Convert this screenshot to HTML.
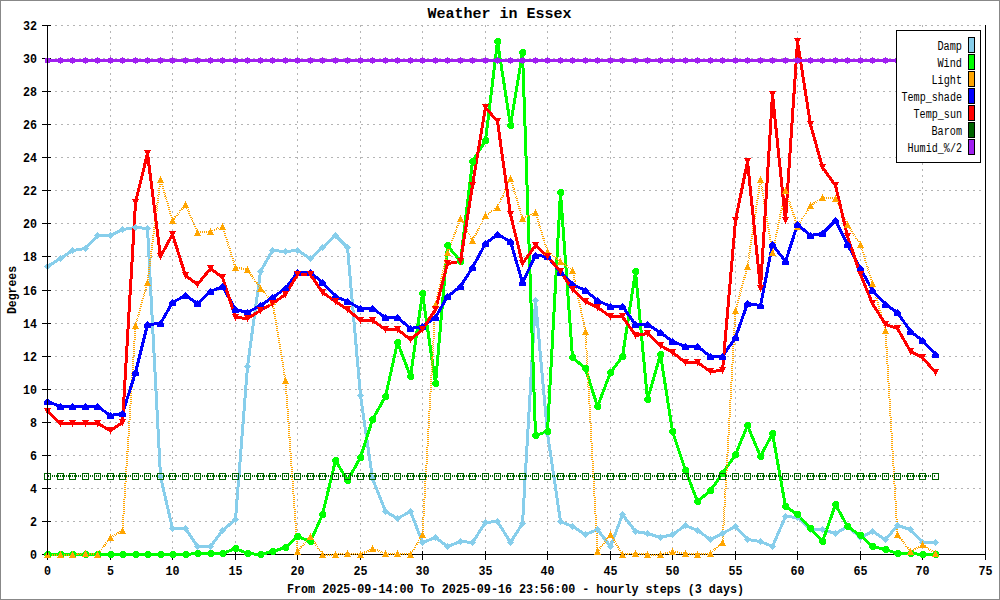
<!DOCTYPE html><html><head><meta charset="utf-8"><title>Weather in Essex</title><style>
html,body{margin:0;padding:0;background:#fff;}body{width:1000px;height:600px;overflow:hidden;}
svg{display:block;}
.t{font-family:"Liberation Mono",monospace;font-weight:bold;font-size:12px;fill:#000;}
.tt{font-family:"Liberation Mono",monospace;font-weight:bold;font-size:15px;fill:#000;}
.lg{font-family:"Liberation Mono",monospace;font-weight:normal;font-size:12px;fill:#000;}
</style></head><body>
<svg width="1000" height="600" viewBox="0 0 1000 600" shape-rendering="auto">
<rect x="0" y="0" width="1000" height="600" fill="#fff"/>
<rect x="0.5" y="0.5" width="999" height="599" fill="none" stroke="#888" stroke-width="1"/>
<path d="M48 521.5H985M48 488.5H985M48 455.5H985M48 422.5H985M48 389.5H985M48 356.5H985M48 323.5H985M48 290.5H985M48 256.5H985M48 223.5H985M48 190.5H985M48 157.5H985M48 124.5H985M48 91.5H985M48 58.5H985M48 25.5H985" stroke="#b4b4b4" stroke-width="1" stroke-dasharray="2 4" stroke-dashoffset="-1" fill="none" shape-rendering="crispEdges"/>
<path d="M110.5 25V554M172.5 25V554M235.5 25V554M297.5 25V554M360.5 25V554M422.5 25V554M485.5 25V554M547.5 25V554M610.5 25V554M672.5 25V554M735.5 25V554M797.5 25V554M860.5 25V554M922.5 25V554" stroke="#b4b4b4" stroke-width="1" stroke-dasharray="2 4" stroke-dashoffset="0" fill="none" shape-rendering="crispEdges"/>
<path d="M47 554.5H986M985.5 25V555" stroke="#000" stroke-width="1" fill="none" shape-rendering="crispEdges"/>
<text class="t" x="37" y="559" text-anchor="end" textLength="7" lengthAdjust="spacingAndGlyphs">0</text>
<text class="t" x="37" y="526" text-anchor="end" textLength="7" lengthAdjust="spacingAndGlyphs">2</text>
<text class="t" x="37" y="493" text-anchor="end" textLength="7" lengthAdjust="spacingAndGlyphs">4</text>
<text class="t" x="37" y="460" text-anchor="end" textLength="7" lengthAdjust="spacingAndGlyphs">6</text>
<text class="t" x="37" y="427" text-anchor="end" textLength="7" lengthAdjust="spacingAndGlyphs">8</text>
<text class="t" x="37" y="394" text-anchor="end" textLength="14" lengthAdjust="spacingAndGlyphs">10</text>
<text class="t" x="37" y="361" text-anchor="end" textLength="14" lengthAdjust="spacingAndGlyphs">12</text>
<text class="t" x="37" y="328" text-anchor="end" textLength="14" lengthAdjust="spacingAndGlyphs">14</text>
<text class="t" x="37" y="295" text-anchor="end" textLength="14" lengthAdjust="spacingAndGlyphs">16</text>
<text class="t" x="37" y="261" text-anchor="end" textLength="14" lengthAdjust="spacingAndGlyphs">18</text>
<text class="t" x="37" y="228" text-anchor="end" textLength="14" lengthAdjust="spacingAndGlyphs">20</text>
<text class="t" x="37" y="195" text-anchor="end" textLength="14" lengthAdjust="spacingAndGlyphs">22</text>
<text class="t" x="37" y="162" text-anchor="end" textLength="14" lengthAdjust="spacingAndGlyphs">24</text>
<text class="t" x="37" y="129" text-anchor="end" textLength="14" lengthAdjust="spacingAndGlyphs">26</text>
<text class="t" x="37" y="96" text-anchor="end" textLength="14" lengthAdjust="spacingAndGlyphs">28</text>
<text class="t" x="37" y="63" text-anchor="end" textLength="14" lengthAdjust="spacingAndGlyphs">30</text>
<text class="t" x="37" y="30" text-anchor="end" textLength="14" lengthAdjust="spacingAndGlyphs">32</text>
<text class="t" x="47.5" y="575" text-anchor="middle" textLength="7" lengthAdjust="spacingAndGlyphs">0</text>
<text class="t" x="110.5" y="575" text-anchor="middle" textLength="7" lengthAdjust="spacingAndGlyphs">5</text>
<text class="t" x="172.5" y="575" text-anchor="middle" textLength="14" lengthAdjust="spacingAndGlyphs">10</text>
<text class="t" x="235.5" y="575" text-anchor="middle" textLength="14" lengthAdjust="spacingAndGlyphs">15</text>
<text class="t" x="297.5" y="575" text-anchor="middle" textLength="14" lengthAdjust="spacingAndGlyphs">20</text>
<text class="t" x="360.5" y="575" text-anchor="middle" textLength="14" lengthAdjust="spacingAndGlyphs">25</text>
<text class="t" x="422.5" y="575" text-anchor="middle" textLength="14" lengthAdjust="spacingAndGlyphs">30</text>
<text class="t" x="485.5" y="575" text-anchor="middle" textLength="14" lengthAdjust="spacingAndGlyphs">35</text>
<text class="t" x="547.5" y="575" text-anchor="middle" textLength="14" lengthAdjust="spacingAndGlyphs">40</text>
<text class="t" x="610.5" y="575" text-anchor="middle" textLength="14" lengthAdjust="spacingAndGlyphs">45</text>
<text class="t" x="672.5" y="575" text-anchor="middle" textLength="14" lengthAdjust="spacingAndGlyphs">50</text>
<text class="t" x="735.5" y="575" text-anchor="middle" textLength="14" lengthAdjust="spacingAndGlyphs">55</text>
<text class="t" x="797.5" y="575" text-anchor="middle" textLength="14" lengthAdjust="spacingAndGlyphs">60</text>
<text class="t" x="860.5" y="575" text-anchor="middle" textLength="14" lengthAdjust="spacingAndGlyphs">65</text>
<text class="t" x="922.5" y="575" text-anchor="middle" textLength="14" lengthAdjust="spacingAndGlyphs">70</text>
<text class="t" x="985.5" y="575" text-anchor="middle" textLength="14" lengthAdjust="spacingAndGlyphs">75</text>
<text class="tt" x="499.5" y="18" text-anchor="middle">Weather in Essex</text>
<text class="t" x="515.5" y="593" text-anchor="middle" textLength="457" lengthAdjust="spacingAndGlyphs">From 2025-09-14:00 To 2025-09-16 23:56:00 - hourly steps (3 days)</text>
<text class="t" transform="translate(16,290) rotate(-90)" x="0" y="0" text-anchor="middle" textLength="48" lengthAdjust="spacingAndGlyphs">Degrees</text>
<defs><pattern id="dots" x="0" y="0" width="2" height="2" patternUnits="userSpaceOnUse"><rect x="0" y="0" width="1" height="2" fill="#006400"/></pattern></defs>
<path d="M42 554.5H51M42 521.5H51M42 488.5H51M42 455.5H51M42 422.5H51M42 389.5H51M42 356.5H51M42 323.5H51M42 290.5H51M42 256.5H51M42 223.5H51M42 190.5H51M42 157.5H51M42 124.5H51M42 91.5H51M42 58.5H51M42 25.5H51M47.5 551V560M110.5 551V560M172.5 551V560M235.5 551V560M297.5 551V560M360.5 551V560M422.5 551V560M485.5 551V560M547.5 551V560M610.5 551V560M672.5 551V560M735.5 551V560M797.5 551V560M860.5 551V560M922.5 551V560M985.5 551V560" stroke="#000" stroke-width="1" fill="none" shape-rendering="crispEdges"/>
<g>
<polyline points="47.50,266.50 60.50,258.50 72.50,250.50 85.50,248.50 97.50,235.50 110.50,235.50 122.50,229.50 135.50,227.50 147.50,228.50 160.50,476.50 172.50,528.50 185.50,528.50 197.50,546.50 210.50,546.50 222.50,530.50 235.50,519.50 247.50,366.50 260.50,271.50 272.50,250.50 285.50,251.50 297.50,250.50 310.50,258.50 322.50,247.50 335.50,235.50 347.50,247.50 360.50,395.50 372.50,478.50 385.50,511.50 397.50,518.50 410.50,511.50 422.50,542.50 435.50,537.50 447.50,546.50 460.50,541.50 472.50,542.50 485.50,522.50 497.50,521.50 510.50,542.50 522.50,523.50 535.50,300.50 547.50,433.50 560.50,521.50 572.50,526.50 585.50,534.50 597.50,529.50 610.50,546.50 622.50,514.50 635.50,531.50 647.50,533.50 660.50,537.50 672.50,534.50 685.50,525.50 697.50,530.50 710.50,539.50 722.50,533.50 735.50,526.50 747.50,539.50 760.50,541.50 772.50,546.50 785.50,516.50 797.50,517.50 810.50,529.50 822.50,529.50 835.50,533.50 847.50,526.50 860.50,537.50 872.50,531.50 885.50,539.50 897.50,525.50 910.50,529.50 922.50,542.50 935.50,542.50" fill="none" stroke="#87ceeb" stroke-width="3" stroke-linejoin="round" shape-rendering="crispEdges"/>
<polyline points="47.50,554.50 60.50,554.50 72.50,554.50 85.50,554.50 97.50,554.50 110.50,554.50 122.50,554.50 135.50,554.50 147.50,554.50 160.50,554.50 172.50,554.50 185.50,554.50 197.50,553.50 210.50,553.50 222.50,553.50 235.50,548.50 247.50,553.50 260.50,554.50 272.50,551.50 285.50,547.50 297.50,536.50 310.50,541.50 322.50,514.50 335.50,460.50 347.50,480.50 360.50,457.50 372.50,419.50 385.50,396.50 397.50,342.50 410.50,376.50 422.50,293.50 435.50,383.50 447.50,245.50 460.50,261.50 472.50,161.50 485.50,140.50 497.50,41.50 510.50,125.50 522.50,52.50 535.50,435.50 547.50,431.50 560.50,192.50 572.50,357.50 585.50,368.50 597.50,406.50 610.50,372.50 622.50,356.50 635.50,271.50 647.50,399.50 660.50,354.50 672.50,431.50 685.50,470.50 697.50,501.50 710.50,490.50 722.50,473.50 735.50,454.50 747.50,425.50 760.50,456.50 772.50,433.50 785.50,506.50 797.50,514.50 810.50,528.50 822.50,541.50 835.50,504.50 847.50,526.50 860.50,535.50 872.50,546.50 885.50,549.50 897.50,553.50 910.50,553.50 922.50,554.50 935.50,554.50" fill="none" stroke="#00ff00" stroke-width="3" stroke-linejoin="round" shape-rendering="crispEdges"/>
<polyline points="47.50,554.50 60.50,554.50 72.50,554.50 85.50,553.50 97.50,554.50 110.50,537.50 122.50,530.50 135.50,325.50 147.50,282.50 160.50,179.50 172.50,220.50 185.50,204.50 197.50,232.50 210.50,231.50 222.50,226.50 235.50,267.50 247.50,269.50 260.50,288.50 272.50,301.50 285.50,380.50 297.50,551.50 310.50,536.50 322.50,554.50 335.50,554.50 347.50,553.50 360.50,554.50 372.50,548.50 385.50,553.50 397.50,553.50 410.50,554.50 422.50,534.50 435.50,304.50 447.50,252.50 460.50,218.50 472.50,240.50 485.50,215.50 497.50,207.50 510.50,178.50 522.50,218.50 535.50,212.50 547.50,251.50 560.50,261.50 572.50,270.50 585.50,331.50 597.50,551.50 610.50,534.50 622.50,554.50 635.50,553.50 647.50,554.50 660.50,554.50 672.50,551.50 685.50,553.50 697.50,554.50 710.50,553.50 722.50,542.50 735.50,310.50 747.50,266.50 760.50,179.50 772.50,252.50 785.50,190.50 797.50,226.50 810.50,205.50 822.50,197.50 835.50,198.50 847.50,224.50 860.50,244.50 872.50,283.50 885.50,330.50 897.50,534.50 910.50,551.50 922.50,544.50 935.50,553.50" fill="none" stroke="#ffa500" stroke-width="2" stroke-linejoin="round" stroke-dasharray="1 1" shape-rendering="crispEdges"/>
<polyline points="47.50,401.50 60.50,406.50 72.50,406.50 85.50,406.50 97.50,406.50 110.50,415.50 122.50,413.50 135.50,372.50 147.50,324.50 160.50,323.50 172.50,302.50 185.50,295.50 197.50,303.50 210.50,291.50 222.50,286.50 235.50,309.50 247.50,312.50 260.50,305.50 272.50,297.50 285.50,288.50 297.50,272.50 310.50,272.50 322.50,282.50 335.50,296.50 347.50,301.50 360.50,308.50 372.50,308.50 385.50,317.50 397.50,317.50 410.50,328.50 422.50,326.50 435.50,317.50 447.50,296.50 460.50,286.50 472.50,267.50 485.50,243.50 497.50,234.50 510.50,241.50 522.50,282.50 535.50,255.50 547.50,256.50 560.50,272.50 572.50,284.50 585.50,290.50 597.50,300.50 610.50,306.50 622.50,306.50 635.50,324.50 647.50,324.50 660.50,332.50 672.50,341.50 685.50,346.50 697.50,346.50 710.50,356.50 722.50,356.50 735.50,337.50 747.50,303.50 760.50,305.50 772.50,244.50 785.50,261.50 797.50,224.50 810.50,235.50 822.50,233.50 835.50,220.50 847.50,244.50 860.50,268.50 872.50,290.50 885.50,304.50 897.50,312.50 910.50,331.50 922.50,340.50 935.50,354.50" fill="none" stroke="#0000ff" stroke-width="3" stroke-linejoin="round" shape-rendering="crispEdges"/>
<polyline points="47.50,411.50 60.50,423.50 72.50,423.50 85.50,423.50 97.50,423.50 110.50,430.50 122.50,422.50 135.50,202.50 147.50,153.50 160.50,256.50 172.50,234.50 185.50,275.50 197.50,284.50 210.50,268.50 222.50,277.50 235.50,317.50 247.50,318.50 260.50,310.50 272.50,303.50 285.50,294.50 297.50,274.50 310.50,274.50 322.50,292.50 335.50,301.50 347.50,309.50 360.50,320.50 372.50,320.50 385.50,329.50 397.50,329.50 410.50,339.50 422.50,329.50 435.50,309.50 447.50,263.50 460.50,261.50 472.50,185.50 485.50,107.50 497.50,121.50 510.50,214.50 522.50,263.50 535.50,245.50 547.50,256.50 560.50,271.50 572.50,289.50 585.50,301.50 597.50,307.50 610.50,316.50 622.50,316.50 635.50,335.50 647.50,333.50 660.50,345.50 672.50,352.50 685.50,362.50 697.50,362.50 710.50,371.50 722.50,370.50 735.50,220.50 747.50,161.50 760.50,288.50 772.50,94.50 785.50,220.50 797.50,41.50 810.50,124.50 822.50,167.50 835.50,185.50 847.50,236.50 860.50,274.50 872.50,303.50 885.50,324.50 897.50,328.50 910.50,351.50 922.50,357.50 935.50,372.50" fill="none" stroke="#ff0000" stroke-width="3" stroke-linejoin="round" shape-rendering="crispEdges"/>
<rect x="47" y="475" width="888" height="2" fill="url(#dots)"/>
<rect x="47" y="59" width="889" height="3" fill="#a020f0"/>
<g shape-rendering="crispEdges">
<path d="M47.50 263.30L50.70 266.50L47.50 269.70L44.30 266.50Z" fill="#87ceeb"/><path d="M60.50 255.30L63.70 258.50L60.50 261.70L57.30 258.50Z" fill="#87ceeb"/><path d="M72.50 247.30L75.70 250.50L72.50 253.70L69.30 250.50Z" fill="#87ceeb"/><path d="M85.50 245.30L88.70 248.50L85.50 251.70L82.30 248.50Z" fill="#87ceeb"/><path d="M97.50 232.30L100.70 235.50L97.50 238.70L94.30 235.50Z" fill="#87ceeb"/><path d="M110.50 232.30L113.70 235.50L110.50 238.70L107.30 235.50Z" fill="#87ceeb"/><path d="M122.50 226.30L125.70 229.50L122.50 232.70L119.30 229.50Z" fill="#87ceeb"/><path d="M135.50 224.30L138.70 227.50L135.50 230.70L132.30 227.50Z" fill="#87ceeb"/><path d="M147.50 225.30L150.70 228.50L147.50 231.70L144.30 228.50Z" fill="#87ceeb"/><path d="M160.50 473.30L163.70 476.50L160.50 479.70L157.30 476.50Z" fill="#87ceeb"/><path d="M172.50 525.30L175.70 528.50L172.50 531.70L169.30 528.50Z" fill="#87ceeb"/><path d="M185.50 525.30L188.70 528.50L185.50 531.70L182.30 528.50Z" fill="#87ceeb"/><path d="M197.50 543.30L200.70 546.50L197.50 549.70L194.30 546.50Z" fill="#87ceeb"/><path d="M210.50 543.30L213.70 546.50L210.50 549.70L207.30 546.50Z" fill="#87ceeb"/><path d="M222.50 527.30L225.70 530.50L222.50 533.70L219.30 530.50Z" fill="#87ceeb"/><path d="M235.50 516.30L238.70 519.50L235.50 522.70L232.30 519.50Z" fill="#87ceeb"/><path d="M247.50 363.30L250.70 366.50L247.50 369.70L244.30 366.50Z" fill="#87ceeb"/><path d="M260.50 268.30L263.70 271.50L260.50 274.70L257.30 271.50Z" fill="#87ceeb"/><path d="M272.50 247.30L275.70 250.50L272.50 253.70L269.30 250.50Z" fill="#87ceeb"/><path d="M285.50 248.30L288.70 251.50L285.50 254.70L282.30 251.50Z" fill="#87ceeb"/><path d="M297.50 247.30L300.70 250.50L297.50 253.70L294.30 250.50Z" fill="#87ceeb"/><path d="M310.50 255.30L313.70 258.50L310.50 261.70L307.30 258.50Z" fill="#87ceeb"/><path d="M322.50 244.30L325.70 247.50L322.50 250.70L319.30 247.50Z" fill="#87ceeb"/><path d="M335.50 232.30L338.70 235.50L335.50 238.70L332.30 235.50Z" fill="#87ceeb"/><path d="M347.50 244.30L350.70 247.50L347.50 250.70L344.30 247.50Z" fill="#87ceeb"/><path d="M360.50 392.30L363.70 395.50L360.50 398.70L357.30 395.50Z" fill="#87ceeb"/><path d="M372.50 475.30L375.70 478.50L372.50 481.70L369.30 478.50Z" fill="#87ceeb"/><path d="M385.50 508.30L388.70 511.50L385.50 514.70L382.30 511.50Z" fill="#87ceeb"/><path d="M397.50 515.30L400.70 518.50L397.50 521.70L394.30 518.50Z" fill="#87ceeb"/><path d="M410.50 508.30L413.70 511.50L410.50 514.70L407.30 511.50Z" fill="#87ceeb"/><path d="M422.50 539.30L425.70 542.50L422.50 545.70L419.30 542.50Z" fill="#87ceeb"/><path d="M435.50 534.30L438.70 537.50L435.50 540.70L432.30 537.50Z" fill="#87ceeb"/><path d="M447.50 543.30L450.70 546.50L447.50 549.70L444.30 546.50Z" fill="#87ceeb"/><path d="M460.50 538.30L463.70 541.50L460.50 544.70L457.30 541.50Z" fill="#87ceeb"/><path d="M472.50 539.30L475.70 542.50L472.50 545.70L469.30 542.50Z" fill="#87ceeb"/><path d="M485.50 519.30L488.70 522.50L485.50 525.70L482.30 522.50Z" fill="#87ceeb"/><path d="M497.50 518.30L500.70 521.50L497.50 524.70L494.30 521.50Z" fill="#87ceeb"/><path d="M510.50 539.30L513.70 542.50L510.50 545.70L507.30 542.50Z" fill="#87ceeb"/><path d="M522.50 520.30L525.70 523.50L522.50 526.70L519.30 523.50Z" fill="#87ceeb"/><path d="M535.50 297.30L538.70 300.50L535.50 303.70L532.30 300.50Z" fill="#87ceeb"/><path d="M547.50 430.30L550.70 433.50L547.50 436.70L544.30 433.50Z" fill="#87ceeb"/><path d="M560.50 518.30L563.70 521.50L560.50 524.70L557.30 521.50Z" fill="#87ceeb"/><path d="M572.50 523.30L575.70 526.50L572.50 529.70L569.30 526.50Z" fill="#87ceeb"/><path d="M585.50 531.30L588.70 534.50L585.50 537.70L582.30 534.50Z" fill="#87ceeb"/><path d="M597.50 526.30L600.70 529.50L597.50 532.70L594.30 529.50Z" fill="#87ceeb"/><path d="M610.50 543.30L613.70 546.50L610.50 549.70L607.30 546.50Z" fill="#87ceeb"/><path d="M622.50 511.30L625.70 514.50L622.50 517.70L619.30 514.50Z" fill="#87ceeb"/><path d="M635.50 528.30L638.70 531.50L635.50 534.70L632.30 531.50Z" fill="#87ceeb"/><path d="M647.50 530.30L650.70 533.50L647.50 536.70L644.30 533.50Z" fill="#87ceeb"/><path d="M660.50 534.30L663.70 537.50L660.50 540.70L657.30 537.50Z" fill="#87ceeb"/><path d="M672.50 531.30L675.70 534.50L672.50 537.70L669.30 534.50Z" fill="#87ceeb"/><path d="M685.50 522.30L688.70 525.50L685.50 528.70L682.30 525.50Z" fill="#87ceeb"/><path d="M697.50 527.30L700.70 530.50L697.50 533.70L694.30 530.50Z" fill="#87ceeb"/><path d="M710.50 536.30L713.70 539.50L710.50 542.70L707.30 539.50Z" fill="#87ceeb"/><path d="M722.50 530.30L725.70 533.50L722.50 536.70L719.30 533.50Z" fill="#87ceeb"/><path d="M735.50 523.30L738.70 526.50L735.50 529.70L732.30 526.50Z" fill="#87ceeb"/><path d="M747.50 536.30L750.70 539.50L747.50 542.70L744.30 539.50Z" fill="#87ceeb"/><path d="M760.50 538.30L763.70 541.50L760.50 544.70L757.30 541.50Z" fill="#87ceeb"/><path d="M772.50 543.30L775.70 546.50L772.50 549.70L769.30 546.50Z" fill="#87ceeb"/><path d="M785.50 513.30L788.70 516.50L785.50 519.70L782.30 516.50Z" fill="#87ceeb"/><path d="M797.50 514.30L800.70 517.50L797.50 520.70L794.30 517.50Z" fill="#87ceeb"/><path d="M810.50 526.30L813.70 529.50L810.50 532.70L807.30 529.50Z" fill="#87ceeb"/><path d="M822.50 526.30L825.70 529.50L822.50 532.70L819.30 529.50Z" fill="#87ceeb"/><path d="M835.50 530.30L838.70 533.50L835.50 536.70L832.30 533.50Z" fill="#87ceeb"/><path d="M847.50 523.30L850.70 526.50L847.50 529.70L844.30 526.50Z" fill="#87ceeb"/><path d="M860.50 534.30L863.70 537.50L860.50 540.70L857.30 537.50Z" fill="#87ceeb"/><path d="M872.50 528.30L875.70 531.50L872.50 534.70L869.30 531.50Z" fill="#87ceeb"/><path d="M885.50 536.30L888.70 539.50L885.50 542.70L882.30 539.50Z" fill="#87ceeb"/><path d="M897.50 522.30L900.70 525.50L897.50 528.70L894.30 525.50Z" fill="#87ceeb"/><path d="M910.50 526.30L913.70 529.50L910.50 532.70L907.30 529.50Z" fill="#87ceeb"/><path d="M922.50 539.30L925.70 542.50L922.50 545.70L919.30 542.50Z" fill="#87ceeb"/><path d="M935.50 539.30L938.70 542.50L935.50 545.70L932.30 542.50Z" fill="#87ceeb"/>
<path d="M46.00 551.00H49.00L51.00 553.00V556.00L49.00 558.00H46.00L44.00 556.00V553.00Z" fill="#00ff00"/><path d="M59.00 551.00H62.00L64.00 553.00V556.00L62.00 558.00H59.00L57.00 556.00V553.00Z" fill="#00ff00"/><path d="M71.00 551.00H74.00L76.00 553.00V556.00L74.00 558.00H71.00L69.00 556.00V553.00Z" fill="#00ff00"/><path d="M84.00 551.00H87.00L89.00 553.00V556.00L87.00 558.00H84.00L82.00 556.00V553.00Z" fill="#00ff00"/><path d="M96.00 551.00H99.00L101.00 553.00V556.00L99.00 558.00H96.00L94.00 556.00V553.00Z" fill="#00ff00"/><path d="M109.00 551.00H112.00L114.00 553.00V556.00L112.00 558.00H109.00L107.00 556.00V553.00Z" fill="#00ff00"/><path d="M121.00 551.00H124.00L126.00 553.00V556.00L124.00 558.00H121.00L119.00 556.00V553.00Z" fill="#00ff00"/><path d="M134.00 551.00H137.00L139.00 553.00V556.00L137.00 558.00H134.00L132.00 556.00V553.00Z" fill="#00ff00"/><path d="M146.00 551.00H149.00L151.00 553.00V556.00L149.00 558.00H146.00L144.00 556.00V553.00Z" fill="#00ff00"/><path d="M159.00 551.00H162.00L164.00 553.00V556.00L162.00 558.00H159.00L157.00 556.00V553.00Z" fill="#00ff00"/><path d="M171.00 551.00H174.00L176.00 553.00V556.00L174.00 558.00H171.00L169.00 556.00V553.00Z" fill="#00ff00"/><path d="M184.00 551.00H187.00L189.00 553.00V556.00L187.00 558.00H184.00L182.00 556.00V553.00Z" fill="#00ff00"/><path d="M196.00 550.00H199.00L201.00 552.00V555.00L199.00 557.00H196.00L194.00 555.00V552.00Z" fill="#00ff00"/><path d="M209.00 550.00H212.00L214.00 552.00V555.00L212.00 557.00H209.00L207.00 555.00V552.00Z" fill="#00ff00"/><path d="M221.00 550.00H224.00L226.00 552.00V555.00L224.00 557.00H221.00L219.00 555.00V552.00Z" fill="#00ff00"/><path d="M234.00 545.00H237.00L239.00 547.00V550.00L237.00 552.00H234.00L232.00 550.00V547.00Z" fill="#00ff00"/><path d="M246.00 550.00H249.00L251.00 552.00V555.00L249.00 557.00H246.00L244.00 555.00V552.00Z" fill="#00ff00"/><path d="M259.00 551.00H262.00L264.00 553.00V556.00L262.00 558.00H259.00L257.00 556.00V553.00Z" fill="#00ff00"/><path d="M271.00 548.00H274.00L276.00 550.00V553.00L274.00 555.00H271.00L269.00 553.00V550.00Z" fill="#00ff00"/><path d="M284.00 544.00H287.00L289.00 546.00V549.00L287.00 551.00H284.00L282.00 549.00V546.00Z" fill="#00ff00"/><path d="M296.00 533.00H299.00L301.00 535.00V538.00L299.00 540.00H296.00L294.00 538.00V535.00Z" fill="#00ff00"/><path d="M309.00 538.00H312.00L314.00 540.00V543.00L312.00 545.00H309.00L307.00 543.00V540.00Z" fill="#00ff00"/><path d="M321.00 511.00H324.00L326.00 513.00V516.00L324.00 518.00H321.00L319.00 516.00V513.00Z" fill="#00ff00"/><path d="M334.00 457.00H337.00L339.00 459.00V462.00L337.00 464.00H334.00L332.00 462.00V459.00Z" fill="#00ff00"/><path d="M346.00 477.00H349.00L351.00 479.00V482.00L349.00 484.00H346.00L344.00 482.00V479.00Z" fill="#00ff00"/><path d="M359.00 454.00H362.00L364.00 456.00V459.00L362.00 461.00H359.00L357.00 459.00V456.00Z" fill="#00ff00"/><path d="M371.00 416.00H374.00L376.00 418.00V421.00L374.00 423.00H371.00L369.00 421.00V418.00Z" fill="#00ff00"/><path d="M384.00 393.00H387.00L389.00 395.00V398.00L387.00 400.00H384.00L382.00 398.00V395.00Z" fill="#00ff00"/><path d="M396.00 339.00H399.00L401.00 341.00V344.00L399.00 346.00H396.00L394.00 344.00V341.00Z" fill="#00ff00"/><path d="M409.00 373.00H412.00L414.00 375.00V378.00L412.00 380.00H409.00L407.00 378.00V375.00Z" fill="#00ff00"/><path d="M421.00 290.00H424.00L426.00 292.00V295.00L424.00 297.00H421.00L419.00 295.00V292.00Z" fill="#00ff00"/><path d="M434.00 380.00H437.00L439.00 382.00V385.00L437.00 387.00H434.00L432.00 385.00V382.00Z" fill="#00ff00"/><path d="M446.00 242.00H449.00L451.00 244.00V247.00L449.00 249.00H446.00L444.00 247.00V244.00Z" fill="#00ff00"/><path d="M459.00 258.00H462.00L464.00 260.00V263.00L462.00 265.00H459.00L457.00 263.00V260.00Z" fill="#00ff00"/><path d="M471.00 158.00H474.00L476.00 160.00V163.00L474.00 165.00H471.00L469.00 163.00V160.00Z" fill="#00ff00"/><path d="M484.00 137.00H487.00L489.00 139.00V142.00L487.00 144.00H484.00L482.00 142.00V139.00Z" fill="#00ff00"/><path d="M496.00 38.00H499.00L501.00 40.00V43.00L499.00 45.00H496.00L494.00 43.00V40.00Z" fill="#00ff00"/><path d="M509.00 122.00H512.00L514.00 124.00V127.00L512.00 129.00H509.00L507.00 127.00V124.00Z" fill="#00ff00"/><path d="M521.00 49.00H524.00L526.00 51.00V54.00L524.00 56.00H521.00L519.00 54.00V51.00Z" fill="#00ff00"/><path d="M534.00 432.00H537.00L539.00 434.00V437.00L537.00 439.00H534.00L532.00 437.00V434.00Z" fill="#00ff00"/><path d="M546.00 428.00H549.00L551.00 430.00V433.00L549.00 435.00H546.00L544.00 433.00V430.00Z" fill="#00ff00"/><path d="M559.00 189.00H562.00L564.00 191.00V194.00L562.00 196.00H559.00L557.00 194.00V191.00Z" fill="#00ff00"/><path d="M571.00 354.00H574.00L576.00 356.00V359.00L574.00 361.00H571.00L569.00 359.00V356.00Z" fill="#00ff00"/><path d="M584.00 365.00H587.00L589.00 367.00V370.00L587.00 372.00H584.00L582.00 370.00V367.00Z" fill="#00ff00"/><path d="M596.00 403.00H599.00L601.00 405.00V408.00L599.00 410.00H596.00L594.00 408.00V405.00Z" fill="#00ff00"/><path d="M609.00 369.00H612.00L614.00 371.00V374.00L612.00 376.00H609.00L607.00 374.00V371.00Z" fill="#00ff00"/><path d="M621.00 353.00H624.00L626.00 355.00V358.00L624.00 360.00H621.00L619.00 358.00V355.00Z" fill="#00ff00"/><path d="M634.00 268.00H637.00L639.00 270.00V273.00L637.00 275.00H634.00L632.00 273.00V270.00Z" fill="#00ff00"/><path d="M646.00 396.00H649.00L651.00 398.00V401.00L649.00 403.00H646.00L644.00 401.00V398.00Z" fill="#00ff00"/><path d="M659.00 351.00H662.00L664.00 353.00V356.00L662.00 358.00H659.00L657.00 356.00V353.00Z" fill="#00ff00"/><path d="M671.00 428.00H674.00L676.00 430.00V433.00L674.00 435.00H671.00L669.00 433.00V430.00Z" fill="#00ff00"/><path d="M684.00 467.00H687.00L689.00 469.00V472.00L687.00 474.00H684.00L682.00 472.00V469.00Z" fill="#00ff00"/><path d="M696.00 498.00H699.00L701.00 500.00V503.00L699.00 505.00H696.00L694.00 503.00V500.00Z" fill="#00ff00"/><path d="M709.00 487.00H712.00L714.00 489.00V492.00L712.00 494.00H709.00L707.00 492.00V489.00Z" fill="#00ff00"/><path d="M721.00 470.00H724.00L726.00 472.00V475.00L724.00 477.00H721.00L719.00 475.00V472.00Z" fill="#00ff00"/><path d="M734.00 451.00H737.00L739.00 453.00V456.00L737.00 458.00H734.00L732.00 456.00V453.00Z" fill="#00ff00"/><path d="M746.00 422.00H749.00L751.00 424.00V427.00L749.00 429.00H746.00L744.00 427.00V424.00Z" fill="#00ff00"/><path d="M759.00 453.00H762.00L764.00 455.00V458.00L762.00 460.00H759.00L757.00 458.00V455.00Z" fill="#00ff00"/><path d="M771.00 430.00H774.00L776.00 432.00V435.00L774.00 437.00H771.00L769.00 435.00V432.00Z" fill="#00ff00"/><path d="M784.00 503.00H787.00L789.00 505.00V508.00L787.00 510.00H784.00L782.00 508.00V505.00Z" fill="#00ff00"/><path d="M796.00 511.00H799.00L801.00 513.00V516.00L799.00 518.00H796.00L794.00 516.00V513.00Z" fill="#00ff00"/><path d="M809.00 525.00H812.00L814.00 527.00V530.00L812.00 532.00H809.00L807.00 530.00V527.00Z" fill="#00ff00"/><path d="M821.00 538.00H824.00L826.00 540.00V543.00L824.00 545.00H821.00L819.00 543.00V540.00Z" fill="#00ff00"/><path d="M834.00 501.00H837.00L839.00 503.00V506.00L837.00 508.00H834.00L832.00 506.00V503.00Z" fill="#00ff00"/><path d="M846.00 523.00H849.00L851.00 525.00V528.00L849.00 530.00H846.00L844.00 528.00V525.00Z" fill="#00ff00"/><path d="M859.00 532.00H862.00L864.00 534.00V537.00L862.00 539.00H859.00L857.00 537.00V534.00Z" fill="#00ff00"/><path d="M871.00 543.00H874.00L876.00 545.00V548.00L874.00 550.00H871.00L869.00 548.00V545.00Z" fill="#00ff00"/><path d="M884.00 546.00H887.00L889.00 548.00V551.00L887.00 553.00H884.00L882.00 551.00V548.00Z" fill="#00ff00"/><path d="M896.00 550.00H899.00L901.00 552.00V555.00L899.00 557.00H896.00L894.00 555.00V552.00Z" fill="#00ff00"/><path d="M909.00 550.00H912.00L914.00 552.00V555.00L912.00 557.00H909.00L907.00 555.00V552.00Z" fill="#00ff00"/><path d="M921.00 551.00H924.00L926.00 553.00V556.00L924.00 558.00H921.00L919.00 556.00V553.00Z" fill="#00ff00"/><path d="M934.00 551.00H937.00L939.00 553.00V556.00L937.00 558.00H934.00L932.00 556.00V553.00Z" fill="#00ff00"/>
<path d="M47.50 551.00L51.00 558.00L44.00 558.00Z" fill="#ffa500"/><path d="M60.50 551.00L64.00 558.00L57.00 558.00Z" fill="#ffa500"/><path d="M72.50 551.00L76.00 558.00L69.00 558.00Z" fill="#ffa500"/><path d="M85.50 550.00L89.00 557.00L82.00 557.00Z" fill="#ffa500"/><path d="M97.50 551.00L101.00 558.00L94.00 558.00Z" fill="#ffa500"/><path d="M110.50 534.00L114.00 541.00L107.00 541.00Z" fill="#ffa500"/><path d="M122.50 527.00L126.00 534.00L119.00 534.00Z" fill="#ffa500"/><path d="M135.50 322.00L139.00 329.00L132.00 329.00Z" fill="#ffa500"/><path d="M147.50 279.00L151.00 286.00L144.00 286.00Z" fill="#ffa500"/><path d="M160.50 176.00L164.00 183.00L157.00 183.00Z" fill="#ffa500"/><path d="M172.50 217.00L176.00 224.00L169.00 224.00Z" fill="#ffa500"/><path d="M185.50 201.00L189.00 208.00L182.00 208.00Z" fill="#ffa500"/><path d="M197.50 229.00L201.00 236.00L194.00 236.00Z" fill="#ffa500"/><path d="M210.50 228.00L214.00 235.00L207.00 235.00Z" fill="#ffa500"/><path d="M222.50 223.00L226.00 230.00L219.00 230.00Z" fill="#ffa500"/><path d="M235.50 264.00L239.00 271.00L232.00 271.00Z" fill="#ffa500"/><path d="M247.50 266.00L251.00 273.00L244.00 273.00Z" fill="#ffa500"/><path d="M260.50 285.00L264.00 292.00L257.00 292.00Z" fill="#ffa500"/><path d="M272.50 298.00L276.00 305.00L269.00 305.00Z" fill="#ffa500"/><path d="M285.50 377.00L289.00 384.00L282.00 384.00Z" fill="#ffa500"/><path d="M297.50 548.00L301.00 555.00L294.00 555.00Z" fill="#ffa500"/><path d="M310.50 533.00L314.00 540.00L307.00 540.00Z" fill="#ffa500"/><path d="M322.50 551.00L326.00 558.00L319.00 558.00Z" fill="#ffa500"/><path d="M335.50 551.00L339.00 558.00L332.00 558.00Z" fill="#ffa500"/><path d="M347.50 550.00L351.00 557.00L344.00 557.00Z" fill="#ffa500"/><path d="M360.50 551.00L364.00 558.00L357.00 558.00Z" fill="#ffa500"/><path d="M372.50 545.00L376.00 552.00L369.00 552.00Z" fill="#ffa500"/><path d="M385.50 550.00L389.00 557.00L382.00 557.00Z" fill="#ffa500"/><path d="M397.50 550.00L401.00 557.00L394.00 557.00Z" fill="#ffa500"/><path d="M410.50 551.00L414.00 558.00L407.00 558.00Z" fill="#ffa500"/><path d="M422.50 531.00L426.00 538.00L419.00 538.00Z" fill="#ffa500"/><path d="M435.50 301.00L439.00 308.00L432.00 308.00Z" fill="#ffa500"/><path d="M447.50 249.00L451.00 256.00L444.00 256.00Z" fill="#ffa500"/><path d="M460.50 215.00L464.00 222.00L457.00 222.00Z" fill="#ffa500"/><path d="M472.50 237.00L476.00 244.00L469.00 244.00Z" fill="#ffa500"/><path d="M485.50 212.00L489.00 219.00L482.00 219.00Z" fill="#ffa500"/><path d="M497.50 204.00L501.00 211.00L494.00 211.00Z" fill="#ffa500"/><path d="M510.50 175.00L514.00 182.00L507.00 182.00Z" fill="#ffa500"/><path d="M522.50 215.00L526.00 222.00L519.00 222.00Z" fill="#ffa500"/><path d="M535.50 209.00L539.00 216.00L532.00 216.00Z" fill="#ffa500"/><path d="M547.50 248.00L551.00 255.00L544.00 255.00Z" fill="#ffa500"/><path d="M560.50 258.00L564.00 265.00L557.00 265.00Z" fill="#ffa500"/><path d="M572.50 267.00L576.00 274.00L569.00 274.00Z" fill="#ffa500"/><path d="M585.50 328.00L589.00 335.00L582.00 335.00Z" fill="#ffa500"/><path d="M597.50 548.00L601.00 555.00L594.00 555.00Z" fill="#ffa500"/><path d="M610.50 531.00L614.00 538.00L607.00 538.00Z" fill="#ffa500"/><path d="M622.50 551.00L626.00 558.00L619.00 558.00Z" fill="#ffa500"/><path d="M635.50 550.00L639.00 557.00L632.00 557.00Z" fill="#ffa500"/><path d="M647.50 551.00L651.00 558.00L644.00 558.00Z" fill="#ffa500"/><path d="M660.50 551.00L664.00 558.00L657.00 558.00Z" fill="#ffa500"/><path d="M672.50 548.00L676.00 555.00L669.00 555.00Z" fill="#ffa500"/><path d="M685.50 550.00L689.00 557.00L682.00 557.00Z" fill="#ffa500"/><path d="M697.50 551.00L701.00 558.00L694.00 558.00Z" fill="#ffa500"/><path d="M710.50 550.00L714.00 557.00L707.00 557.00Z" fill="#ffa500"/><path d="M722.50 539.00L726.00 546.00L719.00 546.00Z" fill="#ffa500"/><path d="M735.50 307.00L739.00 314.00L732.00 314.00Z" fill="#ffa500"/><path d="M747.50 263.00L751.00 270.00L744.00 270.00Z" fill="#ffa500"/><path d="M760.50 176.00L764.00 183.00L757.00 183.00Z" fill="#ffa500"/><path d="M772.50 249.00L776.00 256.00L769.00 256.00Z" fill="#ffa500"/><path d="M785.50 187.00L789.00 194.00L782.00 194.00Z" fill="#ffa500"/><path d="M797.50 223.00L801.00 230.00L794.00 230.00Z" fill="#ffa500"/><path d="M810.50 202.00L814.00 209.00L807.00 209.00Z" fill="#ffa500"/><path d="M822.50 194.00L826.00 201.00L819.00 201.00Z" fill="#ffa500"/><path d="M835.50 195.00L839.00 202.00L832.00 202.00Z" fill="#ffa500"/><path d="M847.50 221.00L851.00 228.00L844.00 228.00Z" fill="#ffa500"/><path d="M860.50 241.00L864.00 248.00L857.00 248.00Z" fill="#ffa500"/><path d="M872.50 280.00L876.00 287.00L869.00 287.00Z" fill="#ffa500"/><path d="M885.50 327.00L889.00 334.00L882.00 334.00Z" fill="#ffa500"/><path d="M897.50 531.00L901.00 538.00L894.00 538.00Z" fill="#ffa500"/><path d="M910.50 548.00L914.00 555.00L907.00 555.00Z" fill="#ffa500"/><path d="M922.50 541.00L926.00 548.00L919.00 548.00Z" fill="#ffa500"/><path d="M935.50 550.00L939.00 557.00L932.00 557.00Z" fill="#ffa500"/>
<path d="M47.50 398.00L51.00 401.00V405.00H44.00V401.00Z" fill="#0000ff"/><path d="M60.50 403.00L64.00 406.00V410.00H57.00V406.00Z" fill="#0000ff"/><path d="M72.50 403.00L76.00 406.00V410.00H69.00V406.00Z" fill="#0000ff"/><path d="M85.50 403.00L89.00 406.00V410.00H82.00V406.00Z" fill="#0000ff"/><path d="M97.50 403.00L101.00 406.00V410.00H94.00V406.00Z" fill="#0000ff"/><path d="M110.50 412.00L114.00 415.00V419.00H107.00V415.00Z" fill="#0000ff"/><path d="M122.50 410.00L126.00 413.00V417.00H119.00V413.00Z" fill="#0000ff"/><path d="M135.50 369.00L139.00 372.00V376.00H132.00V372.00Z" fill="#0000ff"/><path d="M147.50 321.00L151.00 324.00V328.00H144.00V324.00Z" fill="#0000ff"/><path d="M160.50 320.00L164.00 323.00V327.00H157.00V323.00Z" fill="#0000ff"/><path d="M172.50 299.00L176.00 302.00V306.00H169.00V302.00Z" fill="#0000ff"/><path d="M185.50 292.00L189.00 295.00V299.00H182.00V295.00Z" fill="#0000ff"/><path d="M197.50 300.00L201.00 303.00V307.00H194.00V303.00Z" fill="#0000ff"/><path d="M210.50 288.00L214.00 291.00V295.00H207.00V291.00Z" fill="#0000ff"/><path d="M222.50 283.00L226.00 286.00V290.00H219.00V286.00Z" fill="#0000ff"/><path d="M235.50 306.00L239.00 309.00V313.00H232.00V309.00Z" fill="#0000ff"/><path d="M247.50 309.00L251.00 312.00V316.00H244.00V312.00Z" fill="#0000ff"/><path d="M260.50 302.00L264.00 305.00V309.00H257.00V305.00Z" fill="#0000ff"/><path d="M272.50 294.00L276.00 297.00V301.00H269.00V297.00Z" fill="#0000ff"/><path d="M285.50 285.00L289.00 288.00V292.00H282.00V288.00Z" fill="#0000ff"/><path d="M297.50 269.00L301.00 272.00V276.00H294.00V272.00Z" fill="#0000ff"/><path d="M310.50 269.00L314.00 272.00V276.00H307.00V272.00Z" fill="#0000ff"/><path d="M322.50 279.00L326.00 282.00V286.00H319.00V282.00Z" fill="#0000ff"/><path d="M335.50 293.00L339.00 296.00V300.00H332.00V296.00Z" fill="#0000ff"/><path d="M347.50 298.00L351.00 301.00V305.00H344.00V301.00Z" fill="#0000ff"/><path d="M360.50 305.00L364.00 308.00V312.00H357.00V308.00Z" fill="#0000ff"/><path d="M372.50 305.00L376.00 308.00V312.00H369.00V308.00Z" fill="#0000ff"/><path d="M385.50 314.00L389.00 317.00V321.00H382.00V317.00Z" fill="#0000ff"/><path d="M397.50 314.00L401.00 317.00V321.00H394.00V317.00Z" fill="#0000ff"/><path d="M410.50 325.00L414.00 328.00V332.00H407.00V328.00Z" fill="#0000ff"/><path d="M422.50 323.00L426.00 326.00V330.00H419.00V326.00Z" fill="#0000ff"/><path d="M435.50 314.00L439.00 317.00V321.00H432.00V317.00Z" fill="#0000ff"/><path d="M447.50 293.00L451.00 296.00V300.00H444.00V296.00Z" fill="#0000ff"/><path d="M460.50 283.00L464.00 286.00V290.00H457.00V286.00Z" fill="#0000ff"/><path d="M472.50 264.00L476.00 267.00V271.00H469.00V267.00Z" fill="#0000ff"/><path d="M485.50 240.00L489.00 243.00V247.00H482.00V243.00Z" fill="#0000ff"/><path d="M497.50 231.00L501.00 234.00V238.00H494.00V234.00Z" fill="#0000ff"/><path d="M510.50 238.00L514.00 241.00V245.00H507.00V241.00Z" fill="#0000ff"/><path d="M522.50 279.00L526.00 282.00V286.00H519.00V282.00Z" fill="#0000ff"/><path d="M535.50 252.00L539.00 255.00V259.00H532.00V255.00Z" fill="#0000ff"/><path d="M547.50 253.00L551.00 256.00V260.00H544.00V256.00Z" fill="#0000ff"/><path d="M560.50 269.00L564.00 272.00V276.00H557.00V272.00Z" fill="#0000ff"/><path d="M572.50 281.00L576.00 284.00V288.00H569.00V284.00Z" fill="#0000ff"/><path d="M585.50 287.00L589.00 290.00V294.00H582.00V290.00Z" fill="#0000ff"/><path d="M597.50 297.00L601.00 300.00V304.00H594.00V300.00Z" fill="#0000ff"/><path d="M610.50 303.00L614.00 306.00V310.00H607.00V306.00Z" fill="#0000ff"/><path d="M622.50 303.00L626.00 306.00V310.00H619.00V306.00Z" fill="#0000ff"/><path d="M635.50 321.00L639.00 324.00V328.00H632.00V324.00Z" fill="#0000ff"/><path d="M647.50 321.00L651.00 324.00V328.00H644.00V324.00Z" fill="#0000ff"/><path d="M660.50 329.00L664.00 332.00V336.00H657.00V332.00Z" fill="#0000ff"/><path d="M672.50 338.00L676.00 341.00V345.00H669.00V341.00Z" fill="#0000ff"/><path d="M685.50 343.00L689.00 346.00V350.00H682.00V346.00Z" fill="#0000ff"/><path d="M697.50 343.00L701.00 346.00V350.00H694.00V346.00Z" fill="#0000ff"/><path d="M710.50 353.00L714.00 356.00V360.00H707.00V356.00Z" fill="#0000ff"/><path d="M722.50 353.00L726.00 356.00V360.00H719.00V356.00Z" fill="#0000ff"/><path d="M735.50 334.00L739.00 337.00V341.00H732.00V337.00Z" fill="#0000ff"/><path d="M747.50 300.00L751.00 303.00V307.00H744.00V303.00Z" fill="#0000ff"/><path d="M760.50 302.00L764.00 305.00V309.00H757.00V305.00Z" fill="#0000ff"/><path d="M772.50 241.00L776.00 244.00V248.00H769.00V244.00Z" fill="#0000ff"/><path d="M785.50 258.00L789.00 261.00V265.00H782.00V261.00Z" fill="#0000ff"/><path d="M797.50 221.00L801.00 224.00V228.00H794.00V224.00Z" fill="#0000ff"/><path d="M810.50 232.00L814.00 235.00V239.00H807.00V235.00Z" fill="#0000ff"/><path d="M822.50 230.00L826.00 233.00V237.00H819.00V233.00Z" fill="#0000ff"/><path d="M835.50 217.00L839.00 220.00V224.00H832.00V220.00Z" fill="#0000ff"/><path d="M847.50 241.00L851.00 244.00V248.00H844.00V244.00Z" fill="#0000ff"/><path d="M860.50 265.00L864.00 268.00V272.00H857.00V268.00Z" fill="#0000ff"/><path d="M872.50 287.00L876.00 290.00V294.00H869.00V290.00Z" fill="#0000ff"/><path d="M885.50 301.00L889.00 304.00V308.00H882.00V304.00Z" fill="#0000ff"/><path d="M897.50 309.00L901.00 312.00V316.00H894.00V312.00Z" fill="#0000ff"/><path d="M910.50 328.00L914.00 331.00V335.00H907.00V331.00Z" fill="#0000ff"/><path d="M922.50 337.00L926.00 340.00V344.00H919.00V340.00Z" fill="#0000ff"/><path d="M935.50 351.00L939.00 354.00V358.00H932.00V354.00Z" fill="#0000ff"/>
<path d="M47.50 415.00L51.00 408.00L44.00 408.00Z" fill="#ff0000"/><path d="M60.50 427.00L64.00 420.00L57.00 420.00Z" fill="#ff0000"/><path d="M72.50 427.00L76.00 420.00L69.00 420.00Z" fill="#ff0000"/><path d="M85.50 427.00L89.00 420.00L82.00 420.00Z" fill="#ff0000"/><path d="M97.50 427.00L101.00 420.00L94.00 420.00Z" fill="#ff0000"/><path d="M110.50 434.00L114.00 427.00L107.00 427.00Z" fill="#ff0000"/><path d="M122.50 426.00L126.00 419.00L119.00 419.00Z" fill="#ff0000"/><path d="M135.50 206.00L139.00 199.00L132.00 199.00Z" fill="#ff0000"/><path d="M147.50 157.00L151.00 150.00L144.00 150.00Z" fill="#ff0000"/><path d="M160.50 260.00L164.00 253.00L157.00 253.00Z" fill="#ff0000"/><path d="M172.50 238.00L176.00 231.00L169.00 231.00Z" fill="#ff0000"/><path d="M185.50 279.00L189.00 272.00L182.00 272.00Z" fill="#ff0000"/><path d="M197.50 288.00L201.00 281.00L194.00 281.00Z" fill="#ff0000"/><path d="M210.50 272.00L214.00 265.00L207.00 265.00Z" fill="#ff0000"/><path d="M222.50 281.00L226.00 274.00L219.00 274.00Z" fill="#ff0000"/><path d="M235.50 321.00L239.00 314.00L232.00 314.00Z" fill="#ff0000"/><path d="M247.50 322.00L251.00 315.00L244.00 315.00Z" fill="#ff0000"/><path d="M260.50 314.00L264.00 307.00L257.00 307.00Z" fill="#ff0000"/><path d="M272.50 307.00L276.00 300.00L269.00 300.00Z" fill="#ff0000"/><path d="M285.50 298.00L289.00 291.00L282.00 291.00Z" fill="#ff0000"/><path d="M297.50 278.00L301.00 271.00L294.00 271.00Z" fill="#ff0000"/><path d="M310.50 278.00L314.00 271.00L307.00 271.00Z" fill="#ff0000"/><path d="M322.50 296.00L326.00 289.00L319.00 289.00Z" fill="#ff0000"/><path d="M335.50 305.00L339.00 298.00L332.00 298.00Z" fill="#ff0000"/><path d="M347.50 313.00L351.00 306.00L344.00 306.00Z" fill="#ff0000"/><path d="M360.50 324.00L364.00 317.00L357.00 317.00Z" fill="#ff0000"/><path d="M372.50 324.00L376.00 317.00L369.00 317.00Z" fill="#ff0000"/><path d="M385.50 333.00L389.00 326.00L382.00 326.00Z" fill="#ff0000"/><path d="M397.50 333.00L401.00 326.00L394.00 326.00Z" fill="#ff0000"/><path d="M410.50 343.00L414.00 336.00L407.00 336.00Z" fill="#ff0000"/><path d="M422.50 333.00L426.00 326.00L419.00 326.00Z" fill="#ff0000"/><path d="M435.50 313.00L439.00 306.00L432.00 306.00Z" fill="#ff0000"/><path d="M447.50 267.00L451.00 260.00L444.00 260.00Z" fill="#ff0000"/><path d="M460.50 265.00L464.00 258.00L457.00 258.00Z" fill="#ff0000"/><path d="M472.50 189.00L476.00 182.00L469.00 182.00Z" fill="#ff0000"/><path d="M485.50 111.00L489.00 104.00L482.00 104.00Z" fill="#ff0000"/><path d="M497.50 125.00L501.00 118.00L494.00 118.00Z" fill="#ff0000"/><path d="M510.50 218.00L514.00 211.00L507.00 211.00Z" fill="#ff0000"/><path d="M522.50 267.00L526.00 260.00L519.00 260.00Z" fill="#ff0000"/><path d="M535.50 249.00L539.00 242.00L532.00 242.00Z" fill="#ff0000"/><path d="M547.50 260.00L551.00 253.00L544.00 253.00Z" fill="#ff0000"/><path d="M560.50 275.00L564.00 268.00L557.00 268.00Z" fill="#ff0000"/><path d="M572.50 293.00L576.00 286.00L569.00 286.00Z" fill="#ff0000"/><path d="M585.50 305.00L589.00 298.00L582.00 298.00Z" fill="#ff0000"/><path d="M597.50 311.00L601.00 304.00L594.00 304.00Z" fill="#ff0000"/><path d="M610.50 320.00L614.00 313.00L607.00 313.00Z" fill="#ff0000"/><path d="M622.50 320.00L626.00 313.00L619.00 313.00Z" fill="#ff0000"/><path d="M635.50 339.00L639.00 332.00L632.00 332.00Z" fill="#ff0000"/><path d="M647.50 337.00L651.00 330.00L644.00 330.00Z" fill="#ff0000"/><path d="M660.50 349.00L664.00 342.00L657.00 342.00Z" fill="#ff0000"/><path d="M672.50 356.00L676.00 349.00L669.00 349.00Z" fill="#ff0000"/><path d="M685.50 366.00L689.00 359.00L682.00 359.00Z" fill="#ff0000"/><path d="M697.50 366.00L701.00 359.00L694.00 359.00Z" fill="#ff0000"/><path d="M710.50 375.00L714.00 368.00L707.00 368.00Z" fill="#ff0000"/><path d="M722.50 374.00L726.00 367.00L719.00 367.00Z" fill="#ff0000"/><path d="M735.50 224.00L739.00 217.00L732.00 217.00Z" fill="#ff0000"/><path d="M747.50 165.00L751.00 158.00L744.00 158.00Z" fill="#ff0000"/><path d="M760.50 292.00L764.00 285.00L757.00 285.00Z" fill="#ff0000"/><path d="M772.50 98.00L776.00 91.00L769.00 91.00Z" fill="#ff0000"/><path d="M785.50 224.00L789.00 217.00L782.00 217.00Z" fill="#ff0000"/><path d="M797.50 45.00L801.00 38.00L794.00 38.00Z" fill="#ff0000"/><path d="M810.50 128.00L814.00 121.00L807.00 121.00Z" fill="#ff0000"/><path d="M822.50 171.00L826.00 164.00L819.00 164.00Z" fill="#ff0000"/><path d="M835.50 189.00L839.00 182.00L832.00 182.00Z" fill="#ff0000"/><path d="M847.50 240.00L851.00 233.00L844.00 233.00Z" fill="#ff0000"/><path d="M860.50 278.00L864.00 271.00L857.00 271.00Z" fill="#ff0000"/><path d="M872.50 307.00L876.00 300.00L869.00 300.00Z" fill="#ff0000"/><path d="M885.50 328.00L889.00 321.00L882.00 321.00Z" fill="#ff0000"/><path d="M897.50 332.00L901.00 325.00L894.00 325.00Z" fill="#ff0000"/><path d="M910.50 355.00L914.00 348.00L907.00 348.00Z" fill="#ff0000"/><path d="M922.50 361.00L926.00 354.00L919.00 354.00Z" fill="#ff0000"/><path d="M935.50 376.00L939.00 369.00L932.00 369.00Z" fill="#ff0000"/>
<rect x="44.50" y="473.50" width="6" height="6" fill="none" stroke="#006400" stroke-width="1"/><rect x="57.50" y="473.50" width="6" height="6" fill="none" stroke="#006400" stroke-width="1"/><rect x="69.50" y="473.50" width="6" height="6" fill="none" stroke="#006400" stroke-width="1"/><rect x="82.50" y="473.50" width="6" height="6" fill="none" stroke="#006400" stroke-width="1"/><rect x="94.50" y="473.50" width="6" height="6" fill="none" stroke="#006400" stroke-width="1"/><rect x="107.50" y="473.50" width="6" height="6" fill="none" stroke="#006400" stroke-width="1"/><rect x="119.50" y="473.50" width="6" height="6" fill="none" stroke="#006400" stroke-width="1"/><rect x="132.50" y="473.50" width="6" height="6" fill="none" stroke="#006400" stroke-width="1"/><rect x="144.50" y="473.50" width="6" height="6" fill="none" stroke="#006400" stroke-width="1"/><rect x="157.50" y="473.50" width="6" height="6" fill="none" stroke="#006400" stroke-width="1"/><rect x="169.50" y="473.50" width="6" height="6" fill="none" stroke="#006400" stroke-width="1"/><rect x="182.50" y="473.50" width="6" height="6" fill="none" stroke="#006400" stroke-width="1"/><rect x="194.50" y="473.50" width="6" height="6" fill="none" stroke="#006400" stroke-width="1"/><rect x="207.50" y="473.50" width="6" height="6" fill="none" stroke="#006400" stroke-width="1"/><rect x="219.50" y="473.50" width="6" height="6" fill="none" stroke="#006400" stroke-width="1"/><rect x="232.50" y="473.50" width="6" height="6" fill="none" stroke="#006400" stroke-width="1"/><rect x="244.50" y="473.50" width="6" height="6" fill="none" stroke="#006400" stroke-width="1"/><rect x="257.50" y="473.50" width="6" height="6" fill="none" stroke="#006400" stroke-width="1"/><rect x="269.50" y="473.50" width="6" height="6" fill="none" stroke="#006400" stroke-width="1"/><rect x="282.50" y="473.50" width="6" height="6" fill="none" stroke="#006400" stroke-width="1"/><rect x="294.50" y="473.50" width="6" height="6" fill="none" stroke="#006400" stroke-width="1"/><rect x="307.50" y="473.50" width="6" height="6" fill="none" stroke="#006400" stroke-width="1"/><rect x="319.50" y="473.50" width="6" height="6" fill="none" stroke="#006400" stroke-width="1"/><rect x="332.50" y="473.50" width="6" height="6" fill="none" stroke="#006400" stroke-width="1"/><rect x="344.50" y="473.50" width="6" height="6" fill="none" stroke="#006400" stroke-width="1"/><rect x="357.50" y="473.50" width="6" height="6" fill="none" stroke="#006400" stroke-width="1"/><rect x="369.50" y="473.50" width="6" height="6" fill="none" stroke="#006400" stroke-width="1"/><rect x="382.50" y="473.50" width="6" height="6" fill="none" stroke="#006400" stroke-width="1"/><rect x="394.50" y="473.50" width="6" height="6" fill="none" stroke="#006400" stroke-width="1"/><rect x="407.50" y="473.50" width="6" height="6" fill="none" stroke="#006400" stroke-width="1"/><rect x="419.50" y="473.50" width="6" height="6" fill="none" stroke="#006400" stroke-width="1"/><rect x="432.50" y="473.50" width="6" height="6" fill="none" stroke="#006400" stroke-width="1"/><rect x="444.50" y="473.50" width="6" height="6" fill="none" stroke="#006400" stroke-width="1"/><rect x="457.50" y="473.50" width="6" height="6" fill="none" stroke="#006400" stroke-width="1"/><rect x="469.50" y="473.50" width="6" height="6" fill="none" stroke="#006400" stroke-width="1"/><rect x="482.50" y="473.50" width="6" height="6" fill="none" stroke="#006400" stroke-width="1"/><rect x="494.50" y="473.50" width="6" height="6" fill="none" stroke="#006400" stroke-width="1"/><rect x="507.50" y="473.50" width="6" height="6" fill="none" stroke="#006400" stroke-width="1"/><rect x="519.50" y="473.50" width="6" height="6" fill="none" stroke="#006400" stroke-width="1"/><rect x="532.50" y="473.50" width="6" height="6" fill="none" stroke="#006400" stroke-width="1"/><rect x="544.50" y="473.50" width="6" height="6" fill="none" stroke="#006400" stroke-width="1"/><rect x="557.50" y="473.50" width="6" height="6" fill="none" stroke="#006400" stroke-width="1"/><rect x="569.50" y="473.50" width="6" height="6" fill="none" stroke="#006400" stroke-width="1"/><rect x="582.50" y="473.50" width="6" height="6" fill="none" stroke="#006400" stroke-width="1"/><rect x="594.50" y="473.50" width="6" height="6" fill="none" stroke="#006400" stroke-width="1"/><rect x="607.50" y="473.50" width="6" height="6" fill="none" stroke="#006400" stroke-width="1"/><rect x="619.50" y="473.50" width="6" height="6" fill="none" stroke="#006400" stroke-width="1"/><rect x="632.50" y="473.50" width="6" height="6" fill="none" stroke="#006400" stroke-width="1"/><rect x="644.50" y="473.50" width="6" height="6" fill="none" stroke="#006400" stroke-width="1"/><rect x="657.50" y="473.50" width="6" height="6" fill="none" stroke="#006400" stroke-width="1"/><rect x="669.50" y="473.50" width="6" height="6" fill="none" stroke="#006400" stroke-width="1"/><rect x="682.50" y="473.50" width="6" height="6" fill="none" stroke="#006400" stroke-width="1"/><rect x="694.50" y="473.50" width="6" height="6" fill="none" stroke="#006400" stroke-width="1"/><rect x="707.50" y="473.50" width="6" height="6" fill="none" stroke="#006400" stroke-width="1"/><rect x="719.50" y="473.50" width="6" height="6" fill="none" stroke="#006400" stroke-width="1"/><rect x="732.50" y="473.50" width="6" height="6" fill="none" stroke="#006400" stroke-width="1"/><rect x="744.50" y="473.50" width="6" height="6" fill="none" stroke="#006400" stroke-width="1"/><rect x="757.50" y="473.50" width="6" height="6" fill="none" stroke="#006400" stroke-width="1"/><rect x="769.50" y="473.50" width="6" height="6" fill="none" stroke="#006400" stroke-width="1"/><rect x="782.50" y="473.50" width="6" height="6" fill="none" stroke="#006400" stroke-width="1"/><rect x="794.50" y="473.50" width="6" height="6" fill="none" stroke="#006400" stroke-width="1"/><rect x="807.50" y="473.50" width="6" height="6" fill="none" stroke="#006400" stroke-width="1"/><rect x="819.50" y="473.50" width="6" height="6" fill="none" stroke="#006400" stroke-width="1"/><rect x="832.50" y="473.50" width="6" height="6" fill="none" stroke="#006400" stroke-width="1"/><rect x="844.50" y="473.50" width="6" height="6" fill="none" stroke="#006400" stroke-width="1"/><rect x="857.50" y="473.50" width="6" height="6" fill="none" stroke="#006400" stroke-width="1"/><rect x="869.50" y="473.50" width="6" height="6" fill="none" stroke="#006400" stroke-width="1"/><rect x="882.50" y="473.50" width="6" height="6" fill="none" stroke="#006400" stroke-width="1"/><rect x="894.50" y="473.50" width="6" height="6" fill="none" stroke="#006400" stroke-width="1"/><rect x="907.50" y="473.50" width="6" height="6" fill="none" stroke="#006400" stroke-width="1"/><rect x="919.50" y="473.50" width="6" height="6" fill="none" stroke="#006400" stroke-width="1"/><rect x="932.50" y="473.50" width="6" height="6" fill="none" stroke="#006400" stroke-width="1"/>
<path d="M45.00 58.00h5v5h-5ZM47.00 57.00h1v7h-1Z" fill="#a020f0"/><path d="M58.00 58.00h5v5h-5ZM60.00 57.00h1v7h-1Z" fill="#a020f0"/><path d="M70.00 58.00h5v5h-5ZM72.00 57.00h1v7h-1Z" fill="#a020f0"/><path d="M83.00 58.00h5v5h-5ZM85.00 57.00h1v7h-1Z" fill="#a020f0"/><path d="M95.00 58.00h5v5h-5ZM97.00 57.00h1v7h-1Z" fill="#a020f0"/><path d="M108.00 58.00h5v5h-5ZM110.00 57.00h1v7h-1Z" fill="#a020f0"/><path d="M120.00 58.00h5v5h-5ZM122.00 57.00h1v7h-1Z" fill="#a020f0"/><path d="M133.00 58.00h5v5h-5ZM135.00 57.00h1v7h-1Z" fill="#a020f0"/><path d="M145.00 58.00h5v5h-5ZM147.00 57.00h1v7h-1Z" fill="#a020f0"/><path d="M158.00 58.00h5v5h-5ZM160.00 57.00h1v7h-1Z" fill="#a020f0"/><path d="M170.00 58.00h5v5h-5ZM172.00 57.00h1v7h-1Z" fill="#a020f0"/><path d="M183.00 58.00h5v5h-5ZM185.00 57.00h1v7h-1Z" fill="#a020f0"/><path d="M195.00 58.00h5v5h-5ZM197.00 57.00h1v7h-1Z" fill="#a020f0"/><path d="M208.00 58.00h5v5h-5ZM210.00 57.00h1v7h-1Z" fill="#a020f0"/><path d="M220.00 58.00h5v5h-5ZM222.00 57.00h1v7h-1Z" fill="#a020f0"/><path d="M233.00 58.00h5v5h-5ZM235.00 57.00h1v7h-1Z" fill="#a020f0"/><path d="M245.00 58.00h5v5h-5ZM247.00 57.00h1v7h-1Z" fill="#a020f0"/><path d="M258.00 58.00h5v5h-5ZM260.00 57.00h1v7h-1Z" fill="#a020f0"/><path d="M270.00 58.00h5v5h-5ZM272.00 57.00h1v7h-1Z" fill="#a020f0"/><path d="M283.00 58.00h5v5h-5ZM285.00 57.00h1v7h-1Z" fill="#a020f0"/><path d="M295.00 58.00h5v5h-5ZM297.00 57.00h1v7h-1Z" fill="#a020f0"/><path d="M308.00 58.00h5v5h-5ZM310.00 57.00h1v7h-1Z" fill="#a020f0"/><path d="M320.00 58.00h5v5h-5ZM322.00 57.00h1v7h-1Z" fill="#a020f0"/><path d="M333.00 58.00h5v5h-5ZM335.00 57.00h1v7h-1Z" fill="#a020f0"/><path d="M345.00 58.00h5v5h-5ZM347.00 57.00h1v7h-1Z" fill="#a020f0"/><path d="M358.00 58.00h5v5h-5ZM360.00 57.00h1v7h-1Z" fill="#a020f0"/><path d="M370.00 58.00h5v5h-5ZM372.00 57.00h1v7h-1Z" fill="#a020f0"/><path d="M383.00 58.00h5v5h-5ZM385.00 57.00h1v7h-1Z" fill="#a020f0"/><path d="M395.00 58.00h5v5h-5ZM397.00 57.00h1v7h-1Z" fill="#a020f0"/><path d="M408.00 58.00h5v5h-5ZM410.00 57.00h1v7h-1Z" fill="#a020f0"/><path d="M420.00 58.00h5v5h-5ZM422.00 57.00h1v7h-1Z" fill="#a020f0"/><path d="M433.00 58.00h5v5h-5ZM435.00 57.00h1v7h-1Z" fill="#a020f0"/><path d="M445.00 58.00h5v5h-5ZM447.00 57.00h1v7h-1Z" fill="#a020f0"/><path d="M458.00 58.00h5v5h-5ZM460.00 57.00h1v7h-1Z" fill="#a020f0"/><path d="M470.00 58.00h5v5h-5ZM472.00 57.00h1v7h-1Z" fill="#a020f0"/><path d="M483.00 58.00h5v5h-5ZM485.00 57.00h1v7h-1Z" fill="#a020f0"/><path d="M495.00 58.00h5v5h-5ZM497.00 57.00h1v7h-1Z" fill="#a020f0"/><path d="M508.00 58.00h5v5h-5ZM510.00 57.00h1v7h-1Z" fill="#a020f0"/><path d="M520.00 58.00h5v5h-5ZM522.00 57.00h1v7h-1Z" fill="#a020f0"/><path d="M533.00 58.00h5v5h-5ZM535.00 57.00h1v7h-1Z" fill="#a020f0"/><path d="M545.00 58.00h5v5h-5ZM547.00 57.00h1v7h-1Z" fill="#a020f0"/><path d="M558.00 58.00h5v5h-5ZM560.00 57.00h1v7h-1Z" fill="#a020f0"/><path d="M570.00 58.00h5v5h-5ZM572.00 57.00h1v7h-1Z" fill="#a020f0"/><path d="M583.00 58.00h5v5h-5ZM585.00 57.00h1v7h-1Z" fill="#a020f0"/><path d="M595.00 58.00h5v5h-5ZM597.00 57.00h1v7h-1Z" fill="#a020f0"/><path d="M608.00 58.00h5v5h-5ZM610.00 57.00h1v7h-1Z" fill="#a020f0"/><path d="M620.00 58.00h5v5h-5ZM622.00 57.00h1v7h-1Z" fill="#a020f0"/><path d="M633.00 58.00h5v5h-5ZM635.00 57.00h1v7h-1Z" fill="#a020f0"/><path d="M645.00 58.00h5v5h-5ZM647.00 57.00h1v7h-1Z" fill="#a020f0"/><path d="M658.00 58.00h5v5h-5ZM660.00 57.00h1v7h-1Z" fill="#a020f0"/><path d="M670.00 58.00h5v5h-5ZM672.00 57.00h1v7h-1Z" fill="#a020f0"/><path d="M683.00 58.00h5v5h-5ZM685.00 57.00h1v7h-1Z" fill="#a020f0"/><path d="M695.00 58.00h5v5h-5ZM697.00 57.00h1v7h-1Z" fill="#a020f0"/><path d="M708.00 58.00h5v5h-5ZM710.00 57.00h1v7h-1Z" fill="#a020f0"/><path d="M720.00 58.00h5v5h-5ZM722.00 57.00h1v7h-1Z" fill="#a020f0"/><path d="M733.00 58.00h5v5h-5ZM735.00 57.00h1v7h-1Z" fill="#a020f0"/><path d="M745.00 58.00h5v5h-5ZM747.00 57.00h1v7h-1Z" fill="#a020f0"/><path d="M758.00 58.00h5v5h-5ZM760.00 57.00h1v7h-1Z" fill="#a020f0"/><path d="M770.00 58.00h5v5h-5ZM772.00 57.00h1v7h-1Z" fill="#a020f0"/><path d="M783.00 58.00h5v5h-5ZM785.00 57.00h1v7h-1Z" fill="#a020f0"/><path d="M795.00 58.00h5v5h-5ZM797.00 57.00h1v7h-1Z" fill="#a020f0"/><path d="M808.00 58.00h5v5h-5ZM810.00 57.00h1v7h-1Z" fill="#a020f0"/><path d="M820.00 58.00h5v5h-5ZM822.00 57.00h1v7h-1Z" fill="#a020f0"/><path d="M833.00 58.00h5v5h-5ZM835.00 57.00h1v7h-1Z" fill="#a020f0"/><path d="M845.00 58.00h5v5h-5ZM847.00 57.00h1v7h-1Z" fill="#a020f0"/><path d="M858.00 58.00h5v5h-5ZM860.00 57.00h1v7h-1Z" fill="#a020f0"/><path d="M870.00 58.00h5v5h-5ZM872.00 57.00h1v7h-1Z" fill="#a020f0"/><path d="M883.00 58.00h5v5h-5ZM885.00 57.00h1v7h-1Z" fill="#a020f0"/><path d="M895.00 58.00h5v5h-5ZM897.00 57.00h1v7h-1Z" fill="#a020f0"/><path d="M908.00 58.00h5v5h-5ZM910.00 57.00h1v7h-1Z" fill="#a020f0"/><path d="M920.00 58.00h5v5h-5ZM922.00 57.00h1v7h-1Z" fill="#a020f0"/><path d="M933.00 58.00h5v5h-5ZM935.00 57.00h1v7h-1Z" fill="#a020f0"/>
</g></g>
<path d="M47.5 25V555" stroke="#000" stroke-width="1" fill="none" shape-rendering="crispEdges"/>
<rect x="896.5" y="30.5" width="84" height="132" fill="#fff" stroke="#000" stroke-width="1" shape-rendering="crispEdges"/>
<rect x="968.5" y="37.5" width="6" height="15" fill="#87ceeb" stroke="#000" stroke-width="1" shape-rendering="crispEdges"/>
<text class="lg" x="962" y="50" text-anchor="end" textLength="24.5" lengthAdjust="spacingAndGlyphs">Damp</text>
<rect x="968.5" y="54.5" width="6" height="15" fill="#00ff00" stroke="#000" stroke-width="1" shape-rendering="crispEdges"/>
<text class="lg" x="962" y="67" text-anchor="end" textLength="24.5" lengthAdjust="spacingAndGlyphs">Wind</text>
<rect x="968.5" y="71.5" width="6" height="15" fill="#ffa500" stroke="#000" stroke-width="1" shape-rendering="crispEdges"/>
<text class="lg" x="962" y="84" text-anchor="end" textLength="30.5" lengthAdjust="spacingAndGlyphs">Light</text>
<rect x="968.5" y="88.5" width="6" height="15" fill="#0000ff" stroke="#000" stroke-width="1" shape-rendering="crispEdges"/>
<text class="lg" x="962" y="101" text-anchor="end" textLength="60.5" lengthAdjust="spacingAndGlyphs">Temp_shade</text>
<rect x="968.5" y="105.5" width="6" height="15" fill="#ff0000" stroke="#000" stroke-width="1" shape-rendering="crispEdges"/>
<text class="lg" x="962" y="118" text-anchor="end" textLength="48.5" lengthAdjust="spacingAndGlyphs">Temp_sun</text>
<rect x="968.5" y="122.5" width="6" height="15" fill="#006400" stroke="#000" stroke-width="1" shape-rendering="crispEdges"/>
<text class="lg" x="962" y="135" text-anchor="end" textLength="30.5" lengthAdjust="spacingAndGlyphs">Barom</text>
<rect x="968.5" y="139.5" width="6" height="15" fill="#a020f0" stroke="#000" stroke-width="1" shape-rendering="crispEdges"/>
<text class="lg" x="962" y="152" text-anchor="end" textLength="54.5" lengthAdjust="spacingAndGlyphs">Humid_%/2</text>
</svg></body></html>
